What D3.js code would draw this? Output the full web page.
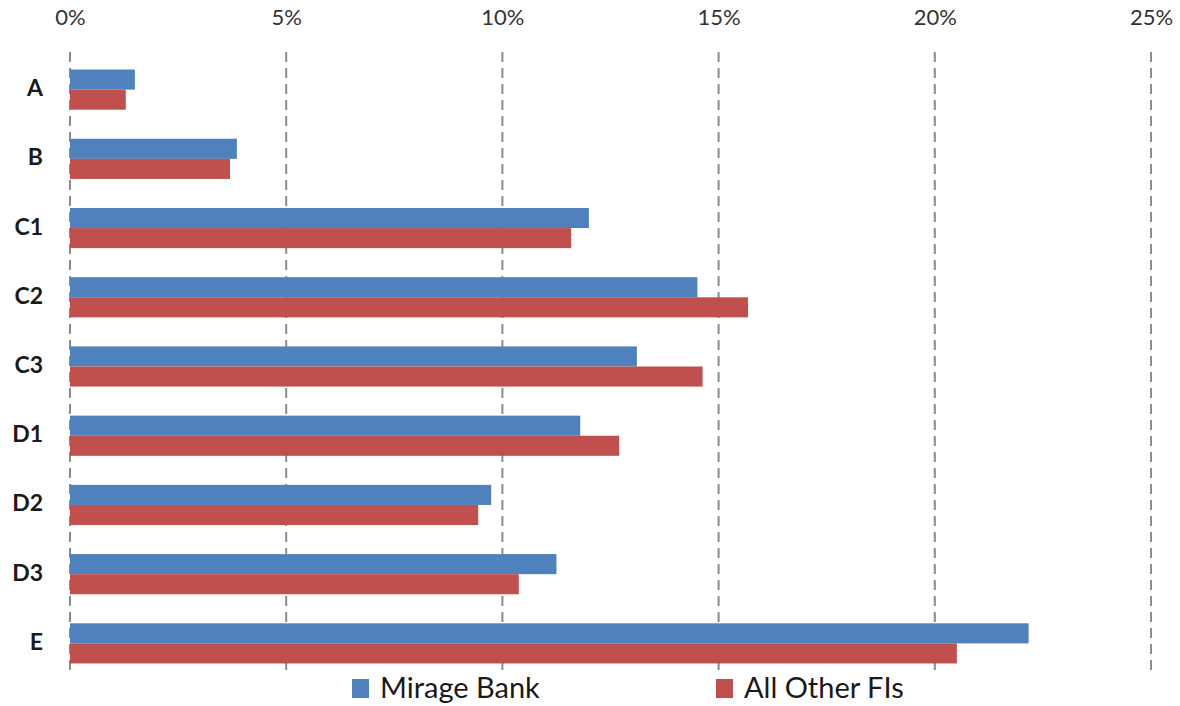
<!DOCTYPE html>
<html>
<head>
<meta charset="utf-8">
<script src="https://cdn.jsdelivr.net/npm/d3@7"></script>
<style>
  html, body { margin: 0; padding: 0; background: #fff; }
  svg { display: block; font-family: Lato, "Open Sans", "Liberation Sans", sans-serif; }
</style>
</head>
<body>
<svg id="chart" width="1180" height="706"></svg>
<script>
// Rating-grade distribution, share of portfolio
const categories = ["A", "B", "C1", "C2", "C3", "D1", "D2", "D3", "E"];
const seriesNames = ["Mirage Bank", "All Other FIs"];
const mirageBank = [1.50, 3.86, 12.00, 14.51, 13.11, 11.80, 9.74, 11.25, 22.17];
const allOtherFIs = [1.29, 3.70, 11.59, 15.68, 14.63, 12.70, 9.44, 10.38, 20.51];
const tickValues = [0, 5, 10, 15, 20, 25];
const colors = ["#4F81BD", "#C0504D"];

const svg = d3.select("#chart");
const plot = { left: 70, right: 1151, top: 55, bottom: 678 };

const x = d3.scaleLinear().domain([0, 25]).range([plot.left, plot.right]);
const y = d3.scaleBand().domain(categories).range([plot.top, plot.bottom]).paddingInner(0.42).paddingOuter(0.21);
const inner = d3.scaleBand().domain(seriesNames).range([0, y.bandwidth()]);

// Dashed vertical gridlines
svg.append("g")
  .selectAll("line")
  .data(tickValues)
  .join("line")
  .attr("x1", d => x(d)).attr("x2", d => x(d))
  .attr("y1", 52).attr("y2", 676)
  .attr("stroke", "#8c8c8c")
  .attr("stroke-width", 2)
  .attr("stroke-dasharray", "10,6");

// Top axis labels
const xAxis = d3.axisTop(x).tickValues(tickValues).tickFormat(d => d + "%").tickSize(0).tickPadding(0);
const gx = svg.append("g").attr("transform", "translate(0,25)").call(xAxis);
gx.select(".domain").remove();
gx.selectAll("text").attr("font-size", 22).attr("fill", "#333333").attr("font-family", "Lato, sans-serif");

// Category axis labels
const yAxis = d3.axisLeft(y).tickSize(0).tickPadding(0);
const gy = svg.append("g").attr("transform", "translate(43,0)").call(yAxis);
gy.select(".domain").remove();
gy.selectAll("text").attr("font-size", 23).attr("font-weight", "bold").attr("fill", "#1a1a1a")
  .attr("font-family", "Lato, sans-serif").attr("dy", "0.28em");

// Bars
const rows = categories.map((c, i) => ({ cat: c, values: [mirageBank[i], allOtherFIs[i]] }));
const groups = svg.append("g").selectAll("g")
  .data(rows)
  .join("g")
  .attr("transform", d => `translate(0,${y(d.cat)})`);

groups.selectAll("rect")
  .data(d => d.values.map((v, j) => ({ name: seriesNames[j], v, j })))
  .join("rect")
  .attr("x", x(0))
  .attr("y", d => inner(d.name))
  .attr("width", d => x(d.v) - x(0))
  .attr("height", inner.bandwidth())
  .attr("fill", d => colors[d.j]);

// Legend
const legendX = [352, 716];
const legend = svg.append("g").selectAll("g")
  .data(seriesNames)
  .join("g")
  .attr("transform", (d, i) => `translate(${legendX[i]},679)`);
legend.append("rect").attr("width", 17).attr("height", 19).attr("fill", (d, i) => colors[i]);
legend.append("text")
  .attr("x", 28).attr("y", 19)
  .attr("font-size", 29)
  .attr("fill", "#1a1a1a")
  .text(d => d);
</script>
</body>
</html>
